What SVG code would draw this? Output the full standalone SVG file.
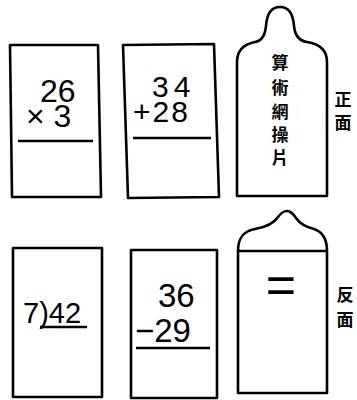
<svg xmlns="http://www.w3.org/2000/svg" width="357" height="400" viewBox="0 0 357 400">
<style>
.card{fill:#fff;stroke:#000;stroke-width:2.6;stroke-linejoin:round}
.rule{stroke:#000;stroke-width:2.4;fill:none}
.num{font-family:"Liberation Sans",Arial,sans-serif;fill:#000}
.cjk{font-family:"Noto Sans CJK TC","Noto Sans CJK SC",sans-serif;font-weight:700;fill:#000;text-anchor:middle}
</style>
<rect width="357" height="400" fill="#fff"/>
<g id="card-26x3">
<polygon class="card" points="10,45 98,45 101,197 12,197"/>
<text class="num" x="40" y="102" font-size="32">26</text>
<text class="num" x="26" y="127" font-size="32">× 3</text>
<line class="rule" x1="18" y1="141" x2="93" y2="141"/>
</g>
<g id="card-34p28">
<polygon class="card" points="123,45 214,44 219,197 128,198"/>
<text class="num" x="152" y="97" font-size="30" letter-spacing="5">34</text>
<text class="num" x="133" y="122" font-size="30" letter-spacing="2">+28</text>
<line class="rule" x1="133" y1="138" x2="211" y2="138"/>
</g>
<g id="bottle-front">
<path class="card" d="M237,196 L237,62 C237,49 245,44 255,42 C262,41 265,36 266,26 C267,12 273,7 280,7 C287,7 293,12 294,26 C295,36 300,41 307,42 C320,44 327,50 327,62 L327,196 Z"/>
<text class="cjk" font-size="17"><tspan x="280" y="69">算</tspan><tspan x="280" y="94">術</tspan><tspan x="280" y="118">網</tspan><tspan x="280" y="141">操</tspan><tspan x="280" y="164">片</tspan></text>
</g>
<g id="label-front">
<text class="cjk" font-size="17"><tspan x="343" y="106">正</tspan><tspan x="343" y="129">面</tspan></text>
</g>
<g id="card-7div42">
<rect class="card" x="13" y="248" width="89" height="149"/>
<text class="num" x="23" y="323" font-size="29">7)42</text>
<line class="rule" x1="40" y1="327" x2="87" y2="327"/>
</g>
<g id="card-36m29">
<rect class="card" x="131" y="250" width="86" height="148"/>
<text class="num" x="158" y="307" font-size="33">36</text>
<text class="num" x="135" y="342" font-size="33">−29</text>
<line class="rule" x1="136" y1="348" x2="210" y2="348"/>
</g>
<g id="bottle-back">
<path class="card" d="M238,393 L238,251 C238,237 244,231 255,229 C267,227 274,223 278,217 C281,213 283,211 287,211 C291,211 293,214 296,218 C300,224 306,227 314,229 C323,232 327,239 327,251 L327,393 Z"/>
<line class="rule" x1="238" y1="251" x2="327" y2="251"/>
<text class="num" x="281" y="303" font-size="52" text-anchor="middle">=</text>
</g>
<g id="label-back">
<text class="cjk" font-size="17"><tspan x="345" y="301">反</tspan><tspan x="345" y="326">面</tspan></text>
</g>
</svg>
